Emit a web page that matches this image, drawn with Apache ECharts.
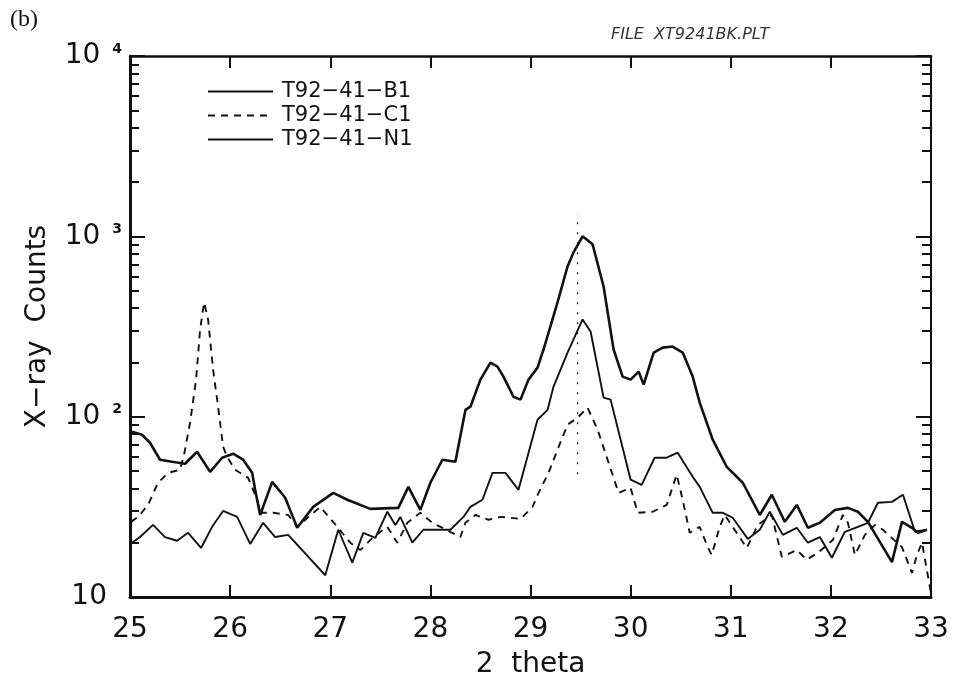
<!DOCTYPE html>
<html><head><meta charset="utf-8">
<script src="https://cdn.jsdelivr.net/npm/echarts@6/dist/echarts.min.js"></script>
<style>html,body{margin:0;padding:0;background:#fff}#c{width:953px;height:688px}</style>
</head><body><div id="c"></div>
<script>
// ---- data ----
const seriesNames = ['T92\u221241\u2212B1', 'T92\u221241\u2212C1', 'T92\u221241\u2212N1'];
const xTicks = [25, 26, 27, 28, 29, 30, 31, 32, 33];
const yMajorTicks = [10, 100, 1000, 10000];
const yMinorTicks = [20,30,40,50,60,70,80,90,200,300,400,500,600,700,800,900,2000,3000,4000,5000,6000,7000,8000,9000];

const b1Theta = [25.02,25.12,25.20,25.30,25.42,25.55,25.67,25.80,25.92,26.03,26.13,26.22,26.25,26.30,26.42,26.55,26.67,26.83,27.03,27.17,27.40,27.68,27.78,27.90,28.00,28.12,28.25,28.35,28.40,28.50,28.60,28.67,28.73,28.83,28.90,28.98,29.07,29.13,29.27,29.37,29.43,29.52,29.62,29.73,29.83,29.92,30.00,30.08,30.13,30.23,30.32,30.42,30.52,30.62,30.69,30.82,30.96,31.12,31.29,31.41,31.54,31.66,31.77,31.89,32.04,32.17,32.27,32.37,32.61,32.71,32.81,32.87,32.96];
const b1Counts = [82.5,79.4,71.7,57.7,56.2,54.8,63.9,49.4,59.2,62.3,57.7,48.8,39.3,28.5,43.5,35.5,24.2,31.6,37.8,34.6,30.8,31.2,40.8,30.4,43.0,57.7,56.2,109,113.6,160.5,199.5,189.6,166.8,129,124.3,160.5,187,235.7,430,681,815,1000,903,527,235.7,166.8,160.5,177.8,150.6,226.7,241.5,244.9,226.7,166.8,119.6,74.5,52.7,43.0,28.5,36.9,26.1,32.4,24.2,25.8,30.4,31.2,29.7,26.1,15.6,26.1,24.2,22.7,23.6];

const c1Theta = [25.01,25.08,25.18,25.28,25.38,25.50,25.54,25.60,25.66,25.70,25.74,25.78,25.83,25.88,25.93,25.97,26.05,26.18,26.27,26.30,26.43,26.58,26.67,26.90,27.07,27.20,27.30,27.43,27.57,27.67,27.77,27.90,28.02,28.30,28.35,28.45,28.58,28.70,28.80,28.90,29.02,29.08,29.18,29.27,29.37,29.47,29.57,29.67,29.77,29.88,30.00,30.07,30.22,30.36,30.46,30.52,30.59,30.69,30.77,30.81,30.89,30.94,31.12,31.16,31.27,31.41,31.51,31.66,31.76,31.87,32.02,32.12,32.17,32.24,32.34,32.44,32.52,32.71,32.81,32.86,32.91,33.0];
const c1Counts = [26.1,27.8,32.4,43.0,48.8,50.8,61.6,92.6,160.5,304,430,346,182,113.6,68.1,59.9,50.8,45.8,34.6,29.3,29.3,28.5,24.5,31.6,24.5,20.0,18.2,21.5,24.5,20.0,25.8,29.3,25.8,21.5,25.8,28.5,26.8,27.8,27.5,27.1,31.6,37.8,48.8,65.6,90.3,98.7,112.2,84.7,57.7,37.8,40.3,29.3,29.7,32.4,47.7,34.6,22.7,24.5,18.9,17.1,24.5,28.5,20.2,18.7,25.1,28.5,16.7,18.2,16.1,17.6,20.7,28.5,25.8,17.1,22.1,25.1,23.6,18.9,13.6,17.1,20.0,10.5];

const n1Theta = [25.02,25.10,25.23,25.35,25.47,25.58,25.71,25.82,25.93,26.07,26.20,26.33,26.45,26.58,26.95,27.08,27.22,27.33,27.45,27.57,27.65,27.70,27.82,27.93,28.20,28.33,28.40,28.52,28.62,28.75,28.88,29.07,29.17,29.23,29.37,29.52,29.60,29.73,29.80,30.00,30.11,30.24,30.36,30.47,30.62,30.69,30.82,30.92,31.02,31.17,31.29,31.39,31.52,31.66,31.77,31.89,32.01,32.14,32.27,32.37,32.47,32.61,32.72,32.84,32.96];
const n1Counts = [20.0,21.5,25.1,21.5,20.5,22.7,18.7,24.5,30.0,27.8,19.7,25.8,21.5,22.1,13.2,23.6,15.5,22.7,21.3,29.7,25.1,27.8,20.0,23.6,23.6,27.8,31.6,34.6,48.8,48.8,39.3,96.2,109,146.8,226.7,346,296.5,127.5,124.3,44.7,41.9,59.2,59.2,63.1,46.4,40.8,29.3,29.3,27.5,21.0,23.6,29.7,22.1,24.2,20.0,21.5,16.5,23.0,24.5,25.8,33.3,33.7,36.9,23.0,23.6];

// thin dotted marker through the main peak
const markTheta = [29.47, 29.47];
const markCounts = [48, 1330];

// ---- chart ----
const FONT = 'DejaVu Sans';
const INK = '#111';
const zip = (a, b) => a.map((x, i) => [x, b[i]]);
const chart = echarts.init(document.getElementById('c'), null, { renderer: 'canvas' });

const xCommon = {
  type: 'value', min: 25, max: 33, interval: 1,
  splitLine: { show: false }
};
const yCommon = {
  type: 'log', logBase: 10, min: 10, max: 10000,
  splitLine: { show: false }, minorTick: { show: false }
};

chart.setOption({
  animation: false,
  backgroundColor: '#fff',
  grid: { left: 130, right: 22, top: 56, bottom: 91 },
  title: [
    { text: '(b)', left: 5, top: 3,
      textStyle: { fontFamily: 'Liberation Serif', fontSize: 24, fontWeight: 'normal', color: INK } },
    { text: 'FILE  XT9241BK.PLT', left: 606, top: 22,
      textStyle: { fontFamily: FONT, fontStyle: 'italic', fontWeight: 'lighter', fontSize: 16, color: '#333' } }
  ],
  legend: {
    data: seriesNames, orient: 'vertical', left: 202, top: 76,
    itemWidth: 65, itemHeight: 14, itemGap: 3, selectedMode: false,
    itemStyle: { opacity: 0 },
    textStyle: { fontFamily: FONT, fontSize: 21, color: INK, padding: [0, 0, 0, 4] }
  },
  xAxis: [
    Object.assign({}, xCommon, {
      position: 'bottom',
      name: '2  theta', nameLocation: 'middle', nameGap: 54,
      nameTextStyle: { fontFamily: FONT, fontSize: 28, color: INK },
      axisLine: { lineStyle: { color: INK, width: 3 } },
      axisTick: { inside: true, length: 12, lineStyle: { color: INK, width: 2 } },
      axisLabel: { fontFamily: FONT, fontSize: 28, color: INK, margin: 19,
        customValues: xTicks }
    }),
    Object.assign({}, xCommon, {
      position: 'top',
      axisLine: { lineStyle: { color: INK, width: 2.5 } },
      axisTick: { inside: true, length: 12, lineStyle: { color: INK, width: 2 } },
      axisLabel: { show: false }
    })
  ],
  yAxis: [
    Object.assign({}, yCommon, {
      position: 'left',
      name: 'X\u2212ray  Counts', nameLocation: 'middle', nameGap: 78,
      nameTextStyle: { fontFamily: FONT, fontSize: 28, color: INK },
      axisLine: { lineStyle: { color: INK, width: 3 } },
      axisTick: { inside: true, length: 15, customValues: yMajorTicks, lineStyle: { color: INK, width: 2 } },
      axisLabel: {
        margin: 8, customValues: yMajorTicks,
        formatter: function (v) {
          const e = Math.round(Math.log10(v));
          return e === 1 ? '{b|10}{g|}' : '{b|10}{s|' + e + '}';
        },
        rich: {
          b: { fontFamily: FONT, fontSize: 28, color: INK },
          s: { fontFamily: FONT, fontSize: 14, fontWeight: 'bold', color: INK, verticalAlign: 'top', padding: [0, 0, 0, 12] },
          g: { width: 15 }
        }
      }
    }),
    Object.assign({}, yCommon, {
      position: 'left',
      axisLine: { show: false },
      axisTick: { inside: true, length: 9, customValues: yMinorTicks, lineStyle: { color: INK, width: 2 } },
      axisLabel: { show: false }
    }),
    Object.assign({}, yCommon, {
      position: 'right',
      axisLine: { lineStyle: { color: INK, width: 2 } },
      axisTick: { inside: true, length: 15, customValues: yMajorTicks, lineStyle: { color: INK, width: 2 } },
      axisLabel: { show: false }
    }),
    Object.assign({}, yCommon, {
      position: 'right',
      axisLine: { show: false },
      axisTick: { inside: true, length: 9, customValues: yMinorTicks, lineStyle: { color: INK, width: 2 } },
      axisLabel: { show: false }
    })
  ],
  series: [
    { name: seriesNames[0], type: 'line', data: zip(b1Theta, b1Counts), symbol: 'none',
      lineStyle: { color: INK, width: 2.6 }, itemStyle: { color: INK }, z: 4 },
    { name: seriesNames[1], type: 'line', data: zip(c1Theta, c1Counts), symbol: 'none',
      lineStyle: { color: INK, width: 1.9, type: [7, 6] }, itemStyle: { color: INK }, z: 3 },
    { name: seriesNames[2], type: 'line', data: zip(n1Theta, n1Counts), symbol: 'none',
      lineStyle: { color: INK, width: 1.9 }, itemStyle: { color: INK }, z: 3 },
    { name: 'peak', type: 'line', data: zip(markTheta, markCounts), symbol: 'none', silent: true,
      lineStyle: { color: INK, width: 1.2, type: [2, 8] }, z: 2 }
  ]
});
</script>
</body></html>
